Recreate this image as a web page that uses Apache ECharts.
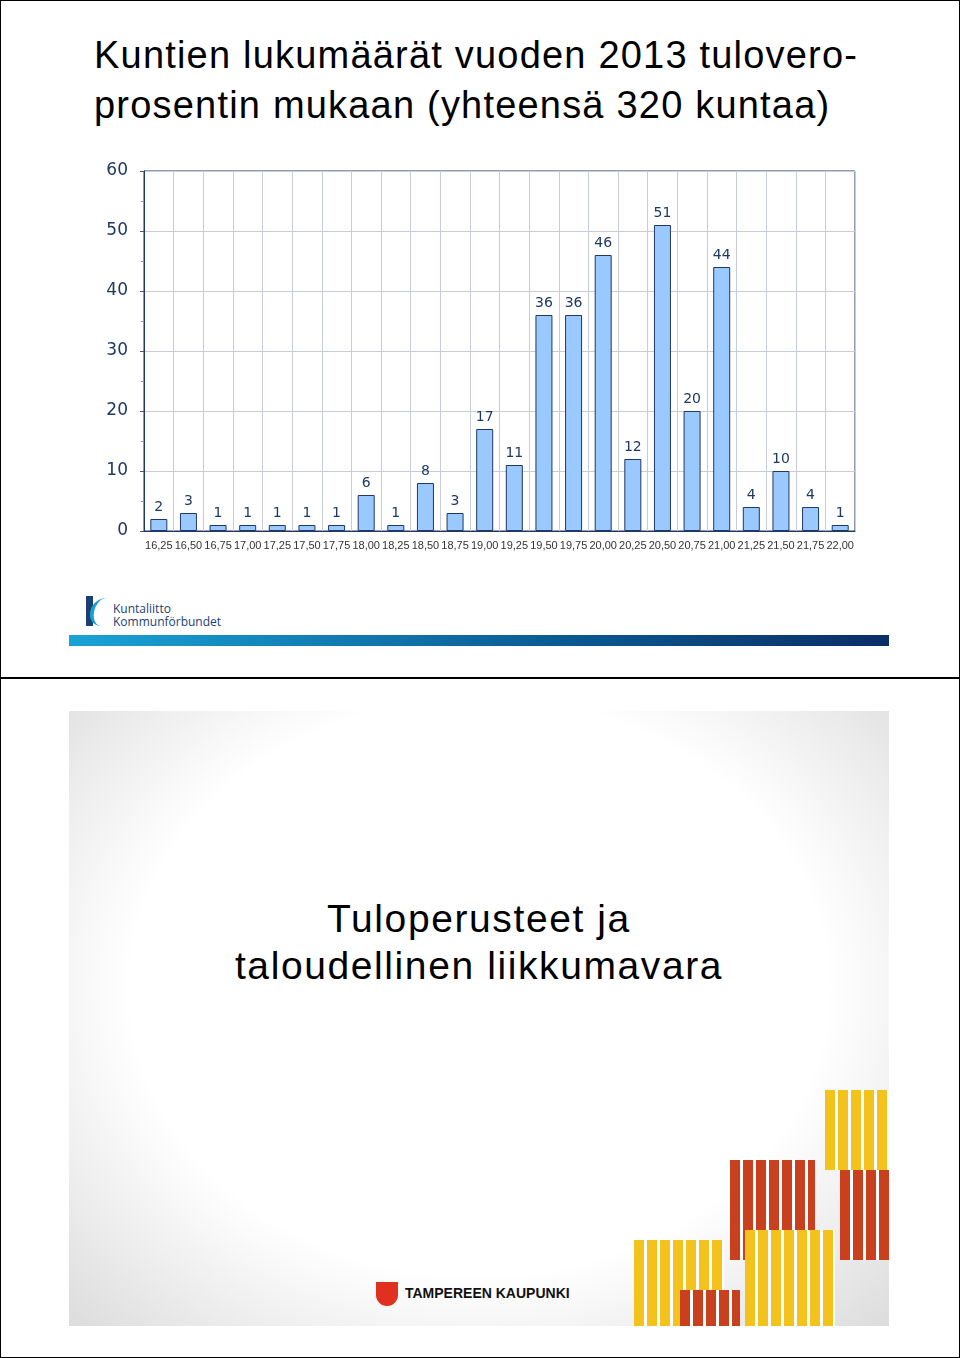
<!DOCTYPE html>
<html><head><meta charset="utf-8">
<script src="https://cdn.jsdelivr.net/npm/echarts@6/dist/echarts.min.js"></script>
<style>
body{margin:0;width:960px;height:1358px;position:relative;background:#fff;font-family:"Liberation Sans",sans-serif;overflow:hidden}
.abs{position:absolute}
</style></head><body>
<div class="abs" style="left:0;top:0;width:958px;height:1356px;border:1px solid #000"></div>
<div class="abs" style="left:0;top:677px;width:960px;height:2px;background:#000"></div>
<div class="abs" style="left:94px;top:30px;font-size:38px;line-height:50px;color:#000;letter-spacing:1.2px">Kuntien lukumäärät vuoden 2013 tulovero-<br>prosentin mukaan (yhteensä 320 kuntaa)</div>
<div id="chart" class="abs" style="left:0;top:150px;width:960px;height:420px"></div>
<div class="abs" style="left:86px;top:596px;width:7px;height:30px;background:#1b3f73"></div>
<div class="abs" style="left:90px;top:598px;width:18px;height:28px;border-left:4px solid #1aa0d0;border-radius:20px 0 0 20px;transform:skewX(-10deg)"></div>
<div class="abs" style="left:113px;top:602px;font-size:12px;line-height:13px;color:#1b3f73;font-family:'Open Sans',sans-serif">Kuntaliitto<br>Kommunförbundet</div>
<div class="abs" style="left:69px;top:635px;width:820px;height:11px;background:linear-gradient(90deg,#1aa3d6,#0a5a92 60%,#0b2d66)"></div>
<div class="abs" style="left:69px;top:711px;width:820px;height:615px;background:radial-gradient(ellipse at 50% 45%,#fff 60%,#dcdcdc 100%)"></div>
<div class="abs" style="left:69px;top:895px;width:820px;text-align:center;font-size:39px;line-height:47px;color:#000;letter-spacing:1.6px">Tuloperusteet ja<br>taloudellinen liikkumavara</div>
<div class="abs" style="left:376px;top:1282px;width:22px;height:24px;background:#e03020;border-radius:0 0 11px 11px"></div>
<div class="abs" style="left:405px;top:1285px;font-size:14px;font-weight:bold;color:#111">TAMPEREEN KAUPUNKI</div>
<div class="abs" style="left:634px;top:1240px;width:90px;height:86px;background:repeating-linear-gradient(90deg,#f3c21c 0 10px,#fff 10px 13px)"></div>
<div class="abs" style="left:680px;top:1290px;width:60px;height:36px;background:repeating-linear-gradient(90deg,#c8401e 0 10px,#fff 10px 13px)"></div>
<div class="abs" style="left:730px;top:1160px;width:85px;height:100px;background:repeating-linear-gradient(90deg,#c8401e 0 10px,#fff 10px 13px)"></div>
<div class="abs" style="left:745px;top:1230px;width:90px;height:96px;background:repeating-linear-gradient(90deg,#f3c21c 0 10px,#fff 10px 13px)"></div>
<div class="abs" style="left:825px;top:1090px;width:64px;height:80px;background:repeating-linear-gradient(90deg,#f3c21c 0 10px,#fff 10px 13px)"></div>
<div class="abs" style="left:840px;top:1170px;width:49px;height:90px;background:repeating-linear-gradient(90deg,#c8401e 0 10px,#fff 10px 13px)"></div>
<script>
const categories=["16,25","16,50","16,75","17,00","17,25","17,50","17,75","18,00","18,25","18,50","18,75","19,00","19,25","19,50","19,75","20,00","20,25","20,50","20,75","21,00","21,25","21,50","21,75","22,00"];
const counts=[2,3,1,1,1,1,1,6,1,8,3,17,11,36,36,46,12,51,20,44,4,10,4,1];
const c=echarts.init(document.getElementById('chart'));
c.setOption({
 animation:false,
 grid:{left:144,right:105,top:21,bottom:39},
 xAxis:{type:'category',data:categories,
  axisLine:{lineStyle:{color:'#1f3864',width:1}},axisTick:{show:false},
  splitLine:{show:true,lineStyle:{color:'#c8ccd4'}},
  axisLabel:{interval:0,fontSize:11,color:'#333',fontFamily:'Liberation Sans Narrow, Liberation Sans',margin:9}},
 yAxis:{type:'value',min:0,max:60,interval:10,
  axisLine:{show:true,lineStyle:{color:'#1f3864'}},axisTick:{show:true,length:4,lineStyle:{color:'#555'}},
  minorTick:{show:true,splitNumber:2,length:3,lineStyle:{color:'#999'}},
  splitLine:{lineStyle:{color:'#c8ccd4'}},
  axisLabel:{fontSize:17,color:'#1f3864',margin:16,fontFamily:'DejaVu Sans'}},
 series:[{type:'bar',data:counts,barWidth:17,
  itemStyle:{color:'#99c9ff',borderColor:'#1f3864',borderWidth:1},
  label:{show:true,position:'top',fontSize:14,color:'#1f3864',distance:5,fontFamily:'DejaVu Sans'}}],
 graphic:[{type:'rect',shape:{x:144,y:21,width:711,height:360},style:{fill:'none',stroke:'#1f3864',lineWidth:1},silent:true}]
});
</script>
</body></html>
